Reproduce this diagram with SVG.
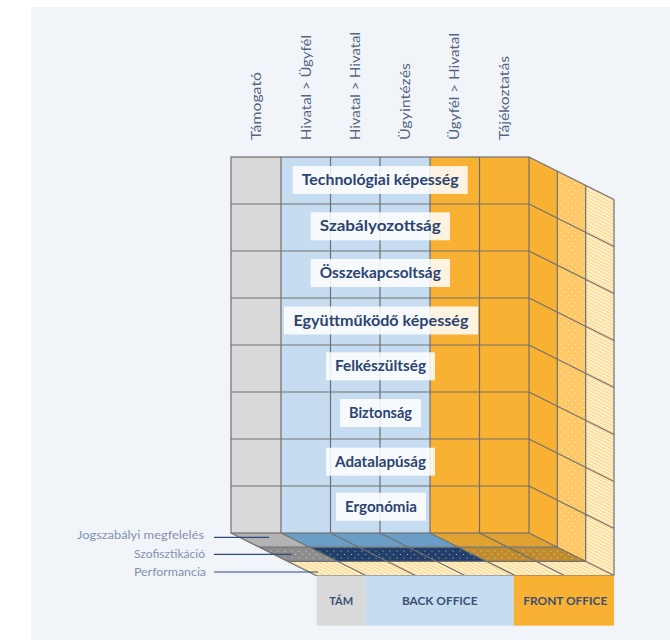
<svg xmlns="http://www.w3.org/2000/svg" width="670" height="640" viewBox="0 0 670 640">
<defs>
<style>
.hdr{font-family:Lato,"Open Sans","Liberation Sans",sans-serif;font-size:13px;fill:#56657f}
.lbl{font-family:Lato,"Open Sans","Liberation Sans",sans-serif;font-size:14.5px;font-weight:bold;fill:#2c4470;text-anchor:middle}
.box{fill:#ffffff;fill-opacity:0.85}
.side{font-family:Lato,"Open Sans","Liberation Sans",sans-serif;font-size:11.5px;fill:#8391ad;text-anchor:end}
.leg{font-family:Lato,"Open Sans","Liberation Sans",sans-serif;font-size:11px;font-weight:bold;fill:#3a5075;text-anchor:middle}
.grid{stroke:#707070;stroke-width:1.2;fill:none}
.lead{stroke:#2e4a7a;stroke-width:1.2}
</style>
<pattern id="dotOr" width="7" height="7" patternUnits="userSpaceOnUse">
<rect width="7" height="7" fill="#fdc865"/>
<circle cx="1.5" cy="1.5" r="0.6" fill="#ffffff" fill-opacity="0.9"/>
<circle cx="5" cy="5" r="0.6" fill="#ffffff" fill-opacity="0.9"/>
</pattern>
<pattern id="dotGray" width="7" height="7" patternUnits="userSpaceOnUse">
<rect width="7" height="7" fill="#8c8c8c"/>
<circle cx="1.5" cy="1.5" r="0.6" fill="#ffffff" fill-opacity="0.7"/>
<circle cx="5" cy="5" r="0.6" fill="#ffffff" fill-opacity="0.7"/>
</pattern>
<pattern id="dotNavy" width="7" height="7" patternUnits="userSpaceOnUse">
<rect width="7" height="7" fill="#223f6c"/>
<circle cx="1.5" cy="1.5" r="0.6" fill="#ffffff" fill-opacity="0.7"/>
<circle cx="5" cy="5" r="0.6" fill="#ffffff" fill-opacity="0.7"/>
</pattern>
<pattern id="dotBrown" width="7" height="7" patternUnits="userSpaceOnUse">
<rect width="7" height="7" fill="#bf8b2c"/>
<circle cx="1.5" cy="1.5" r="0.6" fill="#ffffff" fill-opacity="0.7"/>
<circle cx="5" cy="5" r="0.6" fill="#ffffff" fill-opacity="0.7"/>
</pattern>
<pattern id="stripe" width="3" height="3" patternUnits="userSpaceOnUse" patternTransform="rotate(27)">
<rect width="3" height="3" fill="#fdd98a"/>
<rect width="3" height="1.3" fill="#ffffff" fill-opacity="0.85"/>
</pattern>
</defs>

<rect x="31" y="7" width="639" height="633" fill="#f1f5fa"/>

<g id="headers">
<text class="hdr" transform="translate(261,140) rotate(-90)" textLength="68" lengthAdjust="spacingAndGlyphs">Támogató</text>
<text class="hdr" transform="translate(310.5,140) rotate(-90)" textLength="105" lengthAdjust="spacingAndGlyphs">Hivatal &gt; Ügyfél</text>
<text class="hdr" transform="translate(360,140) rotate(-90)" textLength="108" lengthAdjust="spacingAndGlyphs">Hivatal &gt; Hivatal</text>
<text class="hdr" transform="translate(409.5,140) rotate(-90)" textLength="77" lengthAdjust="spacingAndGlyphs">Ügyintézés</text>
<text class="hdr" transform="translate(459,140) rotate(-90)" textLength="107" lengthAdjust="spacingAndGlyphs">Ügyfél &gt; Hivatal</text>
<text class="hdr" transform="translate(508.5,140) rotate(-90)" textLength="84" lengthAdjust="spacingAndGlyphs">Tájékoztatás</text>
</g>

<g id="cube">
<!-- front face -->
<rect x="231" y="157" width="50" height="376" fill="#d9d9d9"/>
<rect x="281" y="157" width="149" height="376" fill="#c5dcf1"/>
<rect x="430" y="157" width="99" height="376" fill="#f8b133"/>
<!-- right side layers -->
<polygon points="529,157 557.3,171.2 557.3,547.2 529,533" fill="#f8b133"/>
<polygon points="557.3,171.2 585.7,185.3 585.7,561.3 557.3,547.2" fill="url(#dotOr)"/>
<polygon points="585.7,185.3 614,199.5 614,575.5 585.7,561.3" fill="url(#stripe)"/>
<!-- bottom layer 1 -->
<polygon points="231,533 281,533 309.3,547.2 259.3,547.2" fill="#b3b3b3"/>
<polygon points="281,533 430,533 458.3,547.2 309.3,547.2" fill="#6a9ec6"/>
<polygon points="430,533 529,533 557.3,547.2 458.3,547.2" fill="#e0a230"/>
<!-- bottom layer 2 -->
<polygon points="259.3,547.2 309.3,547.2 337.7,561.3 287.7,561.3" fill="url(#dotGray)"/>
<polygon points="309.3,547.2 458.3,547.2 486.7,561.3 337.7,561.3" fill="url(#dotNavy)"/>
<polygon points="458.3,547.2 557.3,547.2 585.7,561.3 486.7,561.3" fill="url(#dotBrown)"/>
<!-- bottom layer 3 -->
<polygon points="287.7,561.3 585.7,561.3 614,575.5 316,575.5" fill="url(#stripe)"/>
</g>

<g id="grid">
<rect class="grid" x="231" y="157" width="298" height="376"/>
<path class="grid" d="M281,157V533M330.5,157V533M380,157V533M430,157V533M479.5,157V533
M231,204H529M231,251H529M231,298H529M231,345H529M231,392H529M231,439H529M231,486H529
M529,157L614,199.5M529,204L614,246.5M529,251L614,293.5M529,298L614,340.5M529,345L614,387.5M529,392L614,434.5M529,439L614,481.5M529,486L614,528.5M529,533L614,575.5
M557.3,171.2V547.2M585.7,185.3V561.3M614,199.5V575.5
M231,533L316,575.5M281,533L366,575.5M330.5,533L415.5,575.5M380,533L465,575.5M430,533L515,575.5M479.5,533L564.5,575.5
M259.3,547.2H557.3M287.7,561.3H585.7M316,575.5H614"/>
</g>

<g id="row-labels">
<g id="r1"><rect class="box" x="292.7" y="166" width="175" height="28"/><text class="lbl" x="380.2" y="185" textLength="157" lengthAdjust="spacingAndGlyphs">Technológiai képesség</text></g>
<g id="r2"><rect class="box" x="310.7" y="212.3" width="139.3" height="28"/><text class="lbl" x="380.3" y="231.3" textLength="121" lengthAdjust="spacingAndGlyphs">Szabályozottság</text></g>
<g id="r3"><rect class="box" x="310.7" y="259" width="139.3" height="28"/><text class="lbl" x="380.3" y="278" textLength="121" lengthAdjust="spacingAndGlyphs">Összekapcsoltság</text></g>
<g id="r4"><rect class="box" x="284" y="306.5" width="194" height="28"/><text class="lbl" x="381" y="325.5" textLength="175" lengthAdjust="spacingAndGlyphs">Együttműködő képesség</text></g>
<g id="r5"><rect class="box" x="326" y="352.3" width="109" height="28"/><text class="lbl" x="380.5" y="371.3" textLength="91" lengthAdjust="spacingAndGlyphs">Felkészültség</text></g>
<g id="r6"><rect class="box" x="340" y="399" width="81" height="28"/><text class="lbl" x="380.5" y="418" textLength="63" lengthAdjust="spacingAndGlyphs">Biztonság</text></g>
<g id="r7"><rect class="box" x="326" y="447.7" width="109" height="28"/><text class="lbl" x="380.5" y="466.7" textLength="91" lengthAdjust="spacingAndGlyphs">Adatalapúság</text></g>
<g id="r8"><rect class="box" x="336" y="492.7" width="90" height="28"/><text class="lbl" x="381" y="511.7" textLength="72" lengthAdjust="spacingAndGlyphs">Ergonómia</text></g>
</g>

<g id="depth-labels">
<text class="side" x="204" y="539" textLength="127" lengthAdjust="spacingAndGlyphs">Jogszabályi megfelelés</text>
<text class="side" x="205" y="558" textLength="71" lengthAdjust="spacingAndGlyphs">Szofisztikáció</text>
<text class="side" x="206" y="576" textLength="72" lengthAdjust="spacingAndGlyphs">Performancia</text>
</g>
<g id="connectors">
<line class="lead" x1="214" y1="537.3" x2="269" y2="537.3"/>
<line class="lead" x1="214" y1="554.3" x2="292" y2="554.3"/>
<line class="lead" x1="214" y1="572" x2="318" y2="572"/>
</g>

<g id="legend">
<g id="leg-tam"><rect x="316.7" y="575.5" width="49" height="50.2" fill="#d9d9d9"/><text class="leg" x="341.2" y="605" textLength="24" lengthAdjust="spacingAndGlyphs">TÁM</text></g>
<g id="leg-back"><rect x="365.7" y="575.5" width="148" height="50.2" fill="#c5dcf1"/><text class="leg" x="439.7" y="605" textLength="75.6" lengthAdjust="spacingAndGlyphs">BACK OFFICE</text></g>
<g id="leg-front"><rect x="513.7" y="575.5" width="100.3" height="50.2" fill="#f8b133"/><text class="leg" x="565.3" y="605" textLength="84" lengthAdjust="spacingAndGlyphs">FRONT OFFICE</text></g>
</g>
</svg>
